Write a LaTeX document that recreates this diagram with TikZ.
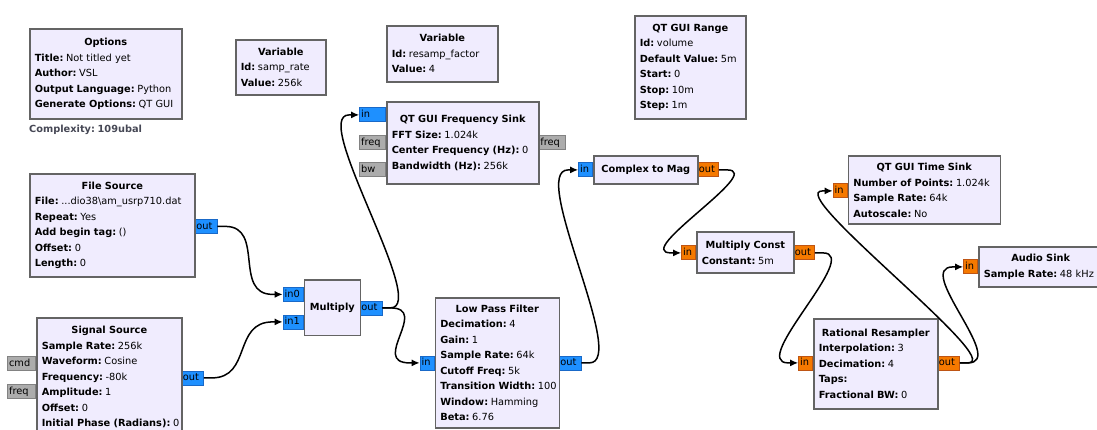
\documentclass[tikz,border=0pt]{standalone}
\usepackage{fontspec}
\setmainfont{DejaVu Sans}
\usetikzlibrary{arrows.meta,calc}
\definecolor{blkfill}{RGB}{240,236,254}
\definecolor{blkdraw}{RGB}{100,100,100}
\definecolor{cplx}{RGB}{30,144,255}
\definecolor{cplxd}{RGB}{25,105,200}
\definecolor{flt}{RGB}{245,121,0}
\definecolor{fltd}{RGB}{190,85,20}
\definecolor{msg}{RGB}{172,172,172}
\definecolor{msgd}{RGB}{130,130,130}
\definecolor{cpxtxt}{RGB}{70,72,85}
\newcommand\kv[2]{\makebox[\hsize][l]{\textbf{#1}\hspace{2.6pt}#2}}
\newcommand\wire[3][40]{\draw[conn] (#2.east) -- ++(8,0) .. controls ($(#2.east)+(8+#1,0)$) and ($(#3.west)+(-10-#1,0)$) .. ($(#3.west)+(-10,0)$) -- (#3.west);}
\begin{document}
\begin{tikzpicture}[x=1pt,y=-1pt,
  blk/.style={draw=blkdraw, fill=blkfill, line width=1.6pt, inner xsep=5pt, inner ysep=0pt,
    align=center, anchor=north west, font=\fontsize{9.8}{15.5}\selectfont},
  port/.style={line width=0.8pt, inner xsep=1.5pt, inner ysep=0pt, minimum height=14pt,
    align=left, text height=7.3pt, text depth=2pt, font=\fontsize{9.8}{12}\selectfont},
  pb/.style={port, draw=cplxd, fill=cplx},
  po/.style={port, draw=fltd, fill=flt},
  pg/.style={port, draw=msgd, fill=msg},
  conn/.style={draw=black, line width=1.5pt, -{Latex[length=8pt,width=7pt]}}]
\useasboundingbox (0,0) rectangle (1097,430);
\fill[white] (0,0) rectangle (1097,430);
\clip (0,0) rectangle (1097,430);

% ports
\node[pb, text width=23pt, anchor=north east] (fsink-in) at (386,107.5) {in};
\node[pg, text width=23pt, anchor=north east] (fsink-freq) at (386,135.5) {freq};
\node[pg, text width=23pt, anchor=north east] (fsink-bw) at (386,162) {bw};
\node[pg, text width=23pt, anchor=north west] (fsink-fout) at (538.5,135.5) {freq};
\node[pb, text width=19pt, anchor=north west] (fsrc-out) at (194.5,219) {out};
\node[pg, text width=25pt, anchor=north east] (sig-cmd) at (36,356) {cmd};
\node[pg, text width=25pt, anchor=north east] (sig-freq) at (36,384) {freq};
\node[pb, text width=19pt, anchor=north west] (sig-out) at (181,370.5) {out};
\node[pb, text width=17pt, anchor=north east] (mul-in0) at (303.5,287) {in0};
\node[pb, text width=17pt, anchor=north east] (mul-in1) at (303.5,314.5) {in1};
\node[pb, text width=19pt, anchor=north west] (mul-out) at (359.5,300.5) {out};
\node[pb, text width=11pt, anchor=north east] (lpf-in) at (434.5,355.5) {in};
\node[pb, text width=19pt, anchor=north west] (lpf-out) at (558.5,355.5) {out};
\node[pb, text width=11pt, anchor=north east] (c2m-in) at (593,162.5) {in};
\node[po, text width=18pt, anchor=north west] (c2m-out) at (697,162.5) {out};
\node[po, text width=11pt, anchor=north east] (mc-in) at (696,245.5) {in};
\node[po, text width=18pt, anchor=north west] (mc-out) at (793,245.5) {out};
\node[po, text width=11pt, anchor=north east] (tsink-in) at (847.5,183.5) {in};
\node[po, text width=11pt, anchor=north east] (asink-in) at (978,259.5) {in};
\node[po, text width=11pt, anchor=north east] (rr-in) at (813,355.5) {in};
\node[po, text width=19pt, anchor=north west] (rr-out) at (937,355.5) {out};

% blocks
\node[blk, text width=142pt, minimum height=90pt] (opt) at (29,28.5)
  {\textbf{Options}\\\kv{Title:}{Not titled yet}\\\kv{Author:}{VSL}\\\kv{Output Language:}{Python}\\\kv{Generate Options:}{QT GUI}};
\node[anchor=west, inner sep=0pt, text=cpxtxt, font=\bfseries\fontsize{9.8}{12}\selectfont] (cplxlbl) at (29,129.5) {Complexity:\hspace{2.6pt}109ubal};
\node[blk, text width=80pt, minimum height=55pt] (var1) at (235,39)
  {\textbf{Variable}\\\kv{Id:}{samp\_rate}\\\kv{Value:}{256k}};
\node[blk, text width=101pt, minimum height=56pt] (var2) at (386,25)
  {\textbf{Variable}\\\kv{Id:}{resamp\_factor}\\\kv{Value:}{4}};
\node[blk, text width=101pt, minimum height=103pt] (rng) at (634,15)
  {\textbf{QT GUI Range}\\\kv{Id:}{volume}\\\kv{Default Value:}{5m}\\\kv{Start:}{0}\\\kv{Stop:}{10m}\\\kv{Step:}{1m}};
\node[blk, text width=142pt, minimum height=82pt] (fsink) at (386,101)
  {\textbf{QT GUI Frequency Sink}\\\kv{FFT Size:}{1.024k}\\\kv{Center Frequency (Hz):}{0}\\\kv{Bandwidth (Hz):}{256k}};
\node[blk, text width=155pt, minimum height=103pt] (fsrc) at (29,173)
  {\textbf{File Source}\\\kv{File:}{...dio38\textbackslash am\_usrp710.dat}\\\kv{Repeat:}{Yes}\\\kv{Add begin tag:}{()}\\\kv{Offset:}{0}\\\kv{Length:}{0}};
\node[blk, text width=135pt, minimum height=119pt] (sig) at (36,317)
  {\textbf{Signal Source}\\\kv{Sample Rate:}{256k}\\\kv{Waveform:}{Cosine}\\\kv{Frequency:}{-80k}\\\kv{Amplitude:}{1}\\\kv{Offset:}{0}\\\kv{Initial Phase (Radians):}{0}};
\node[blk, text width=46pt, minimum height=55pt] (mul) at (303.5,279.5) {\textbf{Multiply}};
\node[blk, text width=114pt, minimum height=130pt] (lpf) at (434.5,297)
  {\textbf{Low Pass Filter}\\\kv{Decimation:}{4}\\\kv{Gain:}{1}\\\kv{Sample Rate:}{64k}\\\kv{Cutoff Freq:}{5k}\\\kv{Transition Width:}{100}\\\kv{Window:}{Hamming}\\\kv{Beta:}{6.76}};
\node[blk, text width=94pt, minimum height=28pt] (c2m) at (593,155) {\textbf{Complex to Mag}};
\node[blk, text width=87pt, minimum height=41pt] (mc) at (696,231.5)
  {\textbf{Multiply Const}\\\kv{Constant:}{5m}};
\node[blk, text width=142pt, minimum height=68pt] (tsink) at (847.5,155.5)
  {\textbf{QT GUI Time Sink}\\\kv{Number of Points:}{1.024k}\\\kv{Sample Rate:}{64k}\\\kv{Autoscale:}{No}};
\node[blk, text width=114pt, minimum height=40pt] (asink) at (978,246)
  {\textbf{Audio Sink}\\\kv{Sample Rate:}{48 kHz}};
\node[blk, text width=114pt, minimum height=90pt] (rr) at (813,318)
  {\textbf{Rational Resampler}\\\kv{Interpolation:}{3}\\\kv{Decimation:}{4}\\\kv{Taps:}{}\\\kv{Fractional BW:}{0}};

% connections
\wire{fsrc-out}{mul-in0}
\wire{sig-out}{mul-in1}
\wire{mul-out}{lpf-in}
\wire{mul-out}{fsink-in}
\wire{lpf-out}{c2m-in}
\wire{c2m-out}{mc-in}
\wire{mc-out}{rr-in}
\wire{rr-out}{tsink-in}
\wire{rr-out}{asink-in}
\end{tikzpicture}
\end{document}
